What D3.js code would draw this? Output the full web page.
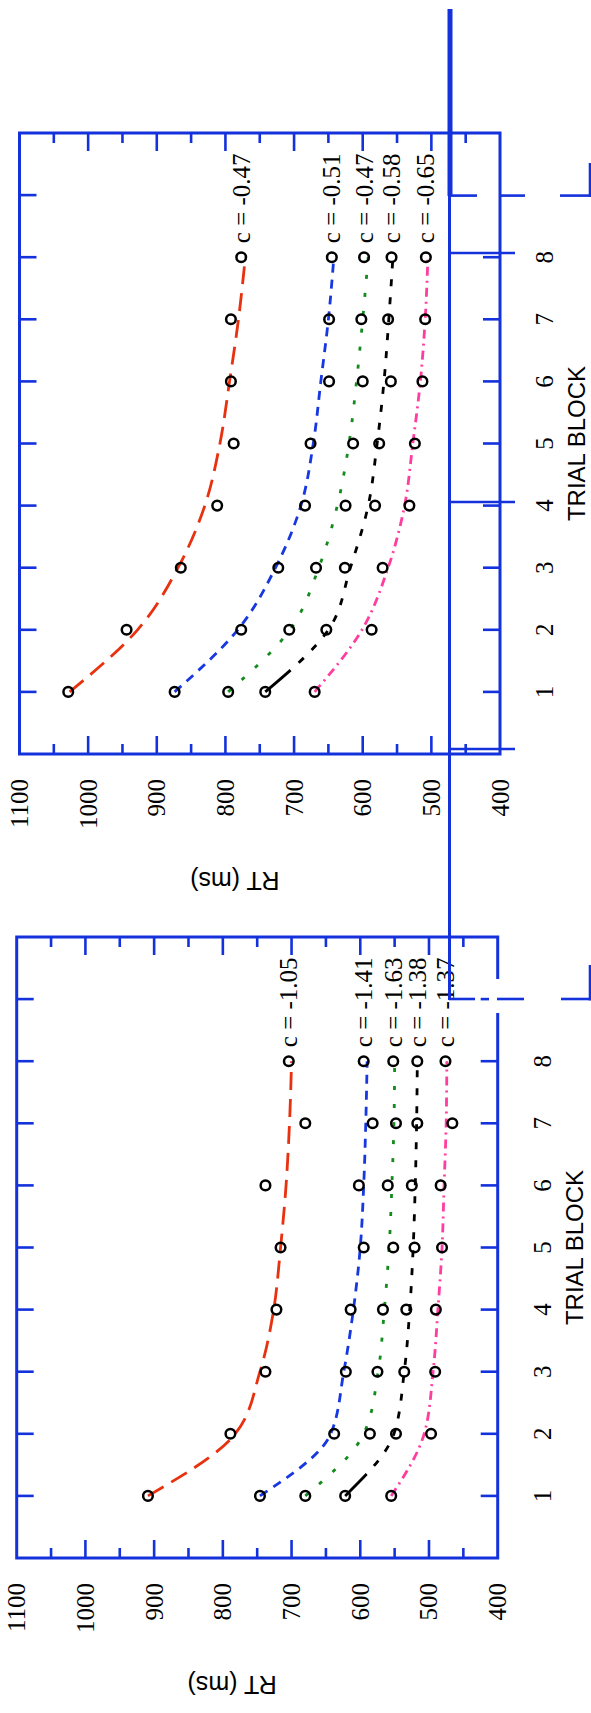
<!DOCTYPE html>
<html>
<head>
<meta charset="utf-8">
<script src="https://cdn.jsdelivr.net/npm/d3@7"></script>
<style>
  body { margin: 0; background: #fff; }
  svg { display: block; }
</style>
</head>
<body>
<svg id="fig" width="591" height="1713"></svg>
<script>
// ---- data -------------------------------------------------------------
const blocks = [1, 2, 3, 4, 5, 6, 7, 8];
const rtLabels = [400, 500, 600, 700, 800, 900, 1000, 1100];
const blockLabels = [1, 2, 3, 4, 5, 6, 7, 8];

// series order: red, blue, green, black, pink
const seriesColors = ["#e8310f", "#1738e0", "#138c1d", "#000000", "#ff3d9e"];

// upper panel: observed mean RT per block and fitted curve
const upperObserved = [
  [1029, 944, 865, 812, 788, 792, 792, 777],
  [874, 777, 723, 684, 676, 649, 649, 645],
  [796, 707, 668, 625, 614, 600, 602, 598],
  [742, 653, 626, 582, 576, 559, 563, 558],
  [670, 587, 571, 532, 524, 513, 509, 508]
];
const upperFitted = [
  [1027, 928, 869, 830, 808, 794, 781, 771],
  [874, 782, 727, 690, 672, 661, 650, 642],
  [796, 706, 664, 637, 620, 609, 600, 592],
  [742, 650, 618, 592, 579, 569, 562, 556],
  [670, 601, 563, 539, 527, 516, 509, 505]
];
const upperC = ["c = -0.47", "c = -0.51", "c = -0.47", "c = -0.58", "c = -0.65"];

// lower panel
const lowerObserved = [
  [909, 789, 738, 722, 716, 738, 680, 704],
  [746, 638, 621, 614, 595, 602, 582, 595],
  [680, 586, 575, 567, 552, 560, 548, 552],
  [622, 548, 536, 533, 521, 525, 517, 517],
  [555, 497, 491, 490, 481, 483, 466, 476]
];
const lowerFitted = [
  [909, 782, 746, 726, 716, 708, 703, 700],
  [746, 643, 624, 610, 600, 595, 592, 590],
  [680, 595, 574, 565, 558, 554, 551, 550],
  [622, 551, 536, 528, 523, 520, 518, 517],
  [555, 507, 494, 487, 481, 478, 475, 474]
];
const lowerC = ["c = -1.05", "c = -1.41", "c = -1.63", "c = -1.38", "c = -1.37"];

// ---- drawing ----------------------------------------------------------
const BLUE = "#1432dc";
const SERIF = "'Liberation Serif', 'Times New Roman', serif";
const SANS = "'Liberation Sans', Arial, sans-serif";
const dashStyles = ["18,9", "9,7", "4,14", null, "9,5,2,5"];
const svg = d3.select("#fig");

// Each panel is drawn in its natural orientation (blocks along x, RT up)
// and then turned a quarter turn counter-clockwise onto the page.
function drawPanel(box, observed, fitted, cLabels, rightTicks) {
  const W = box.bottom - box.top;   // length of the block axis
  const H = box.right - box.left;   // length of the RT axis
  const g = svg.append("g")
    .attr("transform", `translate(${box.left},${box.bottom}) rotate(-90)`);

  const x = d3.scaleLinear().domain([0, 10]).range([0, W]);
  const y = d3.scaleLinear().domain([400, 1100]).range([H, 0]);

  // frame
  g.append("rect")
    .attr("width", W).attr("height", H)
    .attr("fill", "none").attr("stroke", BLUE).attr("stroke-width", 3);

  // RT ticks on both vertical sides (long at hundreds, short at fifties)
  const rtTicks = d3.range(450, 1100, 50);
  const tk = g.append("g").attr("stroke", BLUE).attr("stroke-width", 2.6);
  rtTicks.forEach(t => {
    const len = t % 100 === 0 ? 18 : 10;
    tk.append("line").attr("x1", 0).attr("x2", len).attr("y1", y(t)).attr("y2", y(t));
    tk.append("line").attr("x1", W).attr("x2", W - len).attr("y1", y(t)).attr("y2", y(t));
  });
  // block ticks on the top and bottom sides
  d3.range(1, 10).forEach(b => {
    tk.append("line").attr("x1", x(b)).attr("x2", x(b)).attr("y1", 0).attr("y2", 17);
  });
  rightTicks.forEach(b => {
    tk.append("line").attr("x1", x(b)).attr("x2", x(b)).attr("y1", H).attr("y2", H - 17);
  });

  // RT tick labels
  g.append("g").selectAll("text").data(rtLabels).join("text")
    .attr("x", -25).attr("y", d => y(d))
    .attr("text-anchor", "end").attr("dominant-baseline", "central")
    .attr("font-family", SERIF).attr("font-size", 25)
    .text(d => d);

  // block tick labels
  g.append("g").selectAll("text").data(blockLabels).join("text")
    .attr("x", d => x(d)).attr("y", H + 53)
    .attr("text-anchor", "middle")
    .attr("font-family", SERIF).attr("font-size", 25)
    .text(d => d);

  // axis titles
  g.append("text")
    .attr("x", W / 2).attr("y", H + 85)
    .attr("text-anchor", "middle")
    .attr("font-family", SANS).attr("font-size", 24)
    .text("TRIAL BLOCK");
  g.append("text")
    .attr("transform", `translate(-118,${H / 2 - 25}) rotate(-90)`)
    .attr("text-anchor", "middle")
    .attr("font-family", SANS).attr("font-size", 25)
    .text("RT (ms)");

  // fitted curves
  const line = d3.line()
    .x((d, i) => x(blocks[i]))
    .y(d => y(d))
    .curve(d3.curveMonotoneX);

  fitted.forEach((vals, s) => {
    const p = g.append("path")
      .attr("d", line(vals))
      .attr("fill", "none")
      .attr("stroke", seriesColors[s])
      .attr("stroke-width", 2.8)
      .attr("stroke-linecap", "butt");
    if (dashStyles[s]) {
      p.attr("stroke-dasharray", dashStyles[s]);
    } else {
      // solid lead-in up to block 1.35, then short dashes
      const node = p.node();
      const T = node.getTotalLength();
      const target = x(1.35);
      let lo = 0, hi = T;
      for (let k = 0; k < 30; k++) {
        const mid = (lo + hi) / 2;
        if (node.getPointAtLength(mid).x < target) lo = mid; else hi = mid;
      }
      const pat = [lo, 11];
      let acc = lo + 11;
      while (acc < T + 20) { pat.push(7, 11); acc += 18; }
      p.attr("stroke-dasharray", pat.map(v => v.toFixed(1)).join(","));
    }
  });

  // observed points
  observed.forEach(vals => {
    g.append("g").selectAll("circle").data(vals).join("circle")
      .attr("cx", (d, i) => x(blocks[i]))
      .attr("cy", d => y(d))
      .attr("r", 4.8)
      .attr("fill", "none")
      .attr("stroke", "#000")
      .attr("stroke-width", 2.5);
  });

  // criterion labels beside the last block
  cLabels.forEach((lab, s) => {
    g.append("text")
      .attr("x", x(8) + 14)
      .attr("y", y(observed[s][7]))
      .attr("text-anchor", "start").attr("dominant-baseline", "central")
      .attr("font-family", SERIF).attr("font-size", 25)
      .text(lab);
  });
}

drawPanel({ left: 19.5, right: 500, top: 133, bottom: 754 },
          upperObserved, upperFitted, upperC, [1, 2, 3, 4, 5, 6, 7, 8]);
drawPanel({ left: 16.7, right: 497.7, top: 937, bottom: 1558 },
          lowerObserved, lowerFitted, lowerC, [1, 2, 3, 4, 5, 6, 7, 8, 9]);

// gap in the lower frame's right side
svg.append("rect").attr("x", 489).attr("y", 979).attr("width", 16).attr("height", 34)
  .attr("fill", "#fff");

// registration rules running down the right-hand side of the sheet
const rules = svg.append("g").attr("stroke", BLUE).attr("fill", "none");
rules.append("line").attr("x1", 450).attr("x2", 450).attr("y1", 9).attr("y2", 196)
  .attr("stroke-width", 5);
rules.append("line").attr("x1", 449.5).attr("x2", 449.5).attr("y1", 196).attr("y2", 1000)
  .attr("stroke-width", 3);
const segs = [
  [450, 195.6, 477, 195.6], [500, 195.6, 525, 195.6], [560, 195.6, 590, 195.6], [590, 163, 590, 197],
  [449, 999, 475, 999], [497, 999, 524, 999], [561, 999, 590, 999], [590, 965, 590, 1000.5],
  [449, 253, 515, 253], [449, 502, 515, 502], [449, 749, 515, 749]
];
segs.forEach(s => rules.append("line")
  .attr("x1", s[0]).attr("y1", s[1]).attr("x2", s[2]).attr("y2", s[3])
  .attr("stroke-width", 2.6));
</script>
</body>
</html>
